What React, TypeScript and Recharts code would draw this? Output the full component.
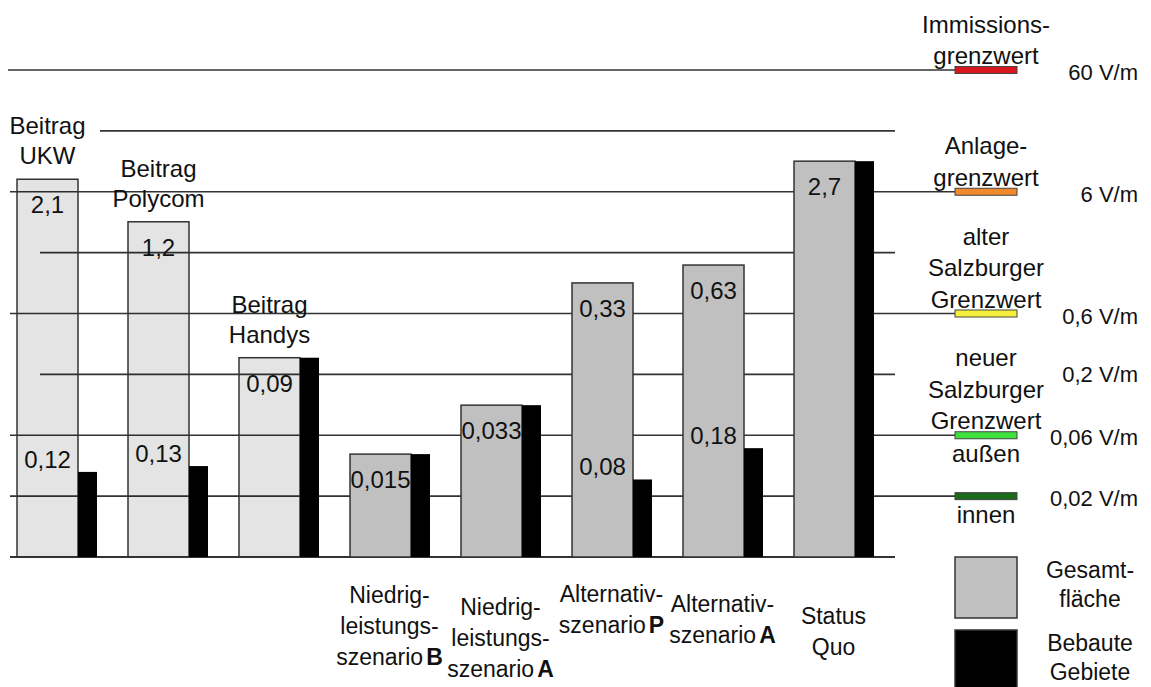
import React from 'react';
import { BarChart, Bar, XAxis, YAxis, ReferenceLine, Legend, Cell, CartesianGrid } from 'recharts';

// ---------------- data ----------------
const categories = [
  'Beitrag UKW',
  'Beitrag Polycom',
  'Beitrag Handys',
  'Niedrigleistungsszenario B',
  'Niedrigleistungsszenario A',
  'Alternativszenario P',
  'Alternativszenario A',
  'Status Quo',
];
// field strength on the chart's log scale (V/m)
const gesamtflaeche = [7.6, 3.4, 0.26, 0.042, 0.106, 1.07, 1.5, 10.7];
const bebauteGebiete = [0.03, 0.0335, 0.26, 0.042, 0.106, 0.026, 0.047, 10.7];
// value annotations printed in the bars
const gesamtLabels = ['2,1', '1,2', '0,09', '0,015', '0,033', '0,33', '0,63', '2,7'];
const bebautLabels = ['0,12', '0,13', '', '', '', '0,08', '0,18', ''];
// titles printed above the first three bars
const topTitles = [['Beitrag', 'UKW'], ['Beitrag', 'Polycom'], ['Beitrag', 'Handys'], [], [], [], [], []];
// x-axis titles: each line = [regular text, bold suffix]
const axisTitles: string[][][] = [
  [], [], [],
  [['Niedrig-'], ['leistungs-'], ['szenario', 'B']],
  [['Niedrig-'], ['leistungs-'], ['szenario', 'A']],
  [['Alternativ-'], ['szenario', 'P']],
  [['Alternativ-'], ['szenario', 'A']],
  [['Status'], ['Quo']],
];
// log-axis grid values (half decades), top to bottom
const gridValues = [60, 18.97, 6, 1.897, 0.6, 0.1897, 0.06, 0.01897, 0.006];
const axisMin = 0.006;
const axisMax = 60;
// limit values
const limitValues = [60, 6, 0.6, 0.06, 0.01897];
const limitTitles = [
  ['Immissions-', 'grenzwert'],
  ['Anlage-', 'grenzwert'],
  ['alter', 'Salzburger', 'Grenzwert'],
  ['neuer', 'Salzburger', 'Grenzwert'],
  [],
];
const limitBelow = [[], [], [], ['außen'], ['innen']];
const limitValueLabels = ['60 V/m', '6 V/m', '0,6 V/m', '0,06 V/m', '0,02 V/m'];
const extraValue = 0.1897;
const extraValueLabel = '0,2 V/m';
const legendOrder = ['Gesamtfläche', 'Bebaute Gebiete'];
const legendLines: Record<string, string[]> = {
  'Gesamtfläche': ['Gesamt-', 'fläche'],
  'Bebaute Gebiete': ['Bebaute', 'Gebiete'],
};

// ---------------- styles ----------------
const W = 1151;
const H = 687;
const FONT = '"Liberation Sans", Arial, Helvetica, sans-serif';
const LIGHT = 'light';
const MID = '#c0c0c0';
const gesamtFill = [LIGHT, LIGHT, LIGHT, MID, MID, MID, MID, MID];
const limitColors = ['#d9161c', '#f08a2c', '#f5f03c', '#3de03d', '#1c6a1c'];
const GRID = '#333';
// extents of each grid line (top to bottom), last = baseline
const gridStart = [8, 100, 10, 40, 10, 40, 10, 10, 10];
const gridEnd = [955, 895, 955, 895, 955, 895, 955, 955, 895];
const markStart = 955;
const markEnd = 1017;
const valueRight = 1138;
const tickDy = [0, 0, 0, 19, 31, 18, 28, 40];
const GRAY_W = 61;
const BLACK_W = 19;

const data = categories.map((name, i) => ({
  name,
  gesamt: gesamtflaeche[i],
  bebaut: bebauteGebiete[i],
}));

const GesamtShape = (props: any) => {
  const { x, y, width, height, index, fill } = props;
  const cx = x + width / 2;
  const titles = topTitles[index] || [];
  const light = fill === LIGHT;
  return (
    <g>
      <rect
        x={x}
        y={y}
        width={width}
        height={height}
        fill={light ? '#000' : fill}
        fillOpacity={light ? 0.105 : 1}
        stroke="#333"
        strokeWidth={1.5}
      />
      <text x={cx} y={y + 25 + 9} textAnchor="middle" fontSize={24} fontFamily={FONT} fill="#111">
        {gesamtLabels[index]}
      </text>
      {titles.map((t, k) => (
        <text
          key={k}
          x={cx}
          y={y - 24 - (titles.length - 1 - k) * 30 + 9}
          textAnchor="middle"
          fontSize={24}
          fontFamily={FONT}
          fill="#111"
        >
          {t}
        </text>
      ))}
    </g>
  );
};

const BebautShape = (props: any) => {
  const { x, y, width, height, index } = props;
  const lbl = bebautLabels[index];
  return (
    <g>
      <rect x={x} y={y} width={width} height={height} fill="#000" />
      {lbl ? (
        <text x={x - GRAY_W / 2} y={y - 13 + 9} textAnchor="middle" fontSize={24} fontFamily={FONT} fill="#111">
          {lbl}
        </text>
      ) : null}
    </g>
  );
};

const CategoryTick = (props: any) => {
  const { x, payload } = props;
  const i = payload?.index ?? 0;
  const lines = axisTitles[i] || [];
  if (!lines.length) return null;
  const first = 557 + tickDy[i] + 19;
  return (
    <g>
      {lines.map((ln, k) => (
        <text key={k} x={x} y={first + k * 31 + 8} textAnchor="middle" fontSize={23} fontFamily={FONT} fill="#111">
          {ln[0]}
          {ln[1] ? (
            <tspan fontWeight="bold" dx={3}>
              {ln[1]}
            </tspan>
          ) : null}
        </text>
      ))}
    </g>
  );
};

const GridLineShape = (props: any) => {
  const { y1, index } = props;
  const i = typeof index === 'number' ? index : 0;
  const last = i === gridValues.length - 1;
  return (
    <line
      x1={gridStart[i] ?? 10}
      x2={gridEnd[i] ?? 955}
      y1={y1}
      y2={y1}
      stroke={GRID}
      strokeWidth={last ? 2 : 1.7}
    />
  );
};

const makeLimitShape = (i: number) => (props: any) => {
  const { y1 } = props;
  const cx = (markStart + markEnd) / 2;
  const titles = limitTitles[i];
  const below = limitBelow[i];
  return (
    <g>
      <rect x={markStart} y={y1 - 3.5} width={markEnd - markStart} height={7} fill={limitColors[i]} stroke="#444" strokeWidth={1} />
      {titles.map((t, k) => (
        <text
          key={'t' + k}
          x={cx}
          y={y1 - 15 - (titles.length - 1 - k) * 31.5 + 9}
          textAnchor="middle"
          fontSize={24}
          fontFamily={FONT}
          fill="#111"
        >
          {t}
        </text>
      ))}
      {below.map((t, k) => (
        <text key={'b' + k} x={cx} y={y1 + 18 + k * 31 + 9} textAnchor="middle" fontSize={24} fontFamily={FONT} fill="#111">
          {t}
        </text>
      ))}
      <text x={valueRight} y={y1 + 2 + 8} textAnchor="end" fontSize={22} fontFamily={FONT} fill="#111">
        {limitValueLabels[i]}
      </text>
    </g>
  );
};

const ExtraLabelShape = (props: any) => {
  const { y1 } = props;
  return (
    <text x={valueRight} y={y1 + 8} textAnchor="end" fontSize={22} fontFamily={FONT} fill="#111">
      {extraValueLabel}
    </text>
  );
};

const LegendContent = (props: any) => {
  const payload = [...(props.payload || [])].sort(
    (a: any, b: any) => legendOrder.indexOf(a.value) - legendOrder.indexOf(b.value)
  );
  return (
    <svg width={201} height={140} style={{ display: 'block', overflow: 'visible' }}>
      {payload.map((p: any, k: number) => {
        const top = 5 + k * 73;
        const lines = legendLines[p.value] || [p.value];
        return (
          <g key={k}>
            <rect x={5} y={top} width={62} height={61} fill={p.color} stroke="#333" strokeWidth={1.5} />
            {lines.map((t: string, j: number) => (
              <text key={j} x={140} y={top + 13 + j * 29 + 8} textAnchor="middle" fontSize={23} fontFamily={FONT} fill="#111">
                {t}
              </text>
            ))}
          </g>
        );
      })}
    </svg>
  );
};

export default function App() {
  return (
    <div style={{ position: 'absolute', left: 0, top: 0, width: W, height: H, background: '#fff', overflow: 'hidden' }}>
      <BarChart width={W} height={H} data={data} margin={{ top: 70, right: 0, bottom: 0, left: 0 }} barGap={0} barCategoryGap={0}>
        <CartesianGrid xAxisId="cat" vertical={false} horizontal={GridLineShape} />
        <XAxis
          xAxisId="cat"
          dataKey="name"
          height={130}
          padding={{ left: 1, right: 262 }}
          axisLine={false}
          tickLine={false}
          tickSize={0}
          tickMargin={0}
          interval={0}
          tick={<CategoryTick />}
        />
        <YAxis scale="log" type="number" domain={[axisMin, axisMax]} ticks={gridValues} interval={0} hide allowDataOverflow />
        <ReferenceLine xAxisId="cat" y={extraValue} ifOverflow="visible" shape={ExtraLabelShape} />
        {limitValues.map((v, i) => (
          <ReferenceLine key={'l' + i} xAxisId="cat" y={v} ifOverflow="visible" shape={makeLimitShape(i)} />
        ))}
        <Bar
          xAxisId="cat"
          dataKey="gesamt"
          name="Gesamtfläche"
          fill={MID}
          barSize={GRAY_W}
          isAnimationActive={false}
          shape={GesamtShape}
        >
          {data.map((d, i) => (
            <Cell key={i} fill={gesamtFill[i]} />
          ))}
        </Bar>
        <Bar
          xAxisId="cat"
          dataKey="bebaut"
          name="Bebaute Gebiete"
          fill="#000"
          barSize={BLACK_W}
          isAnimationActive={false}
          shape={BebautShape}
        />
        <Legend
          layout="vertical"
          align="center"
          verticalAlign="middle"
          content={<LegendContent />}
          wrapperStyle={{ position: 'absolute', left: 950, top: 552, width: 201, height: 140 }}
        />
      </BarChart>
    </div>
  );
}
